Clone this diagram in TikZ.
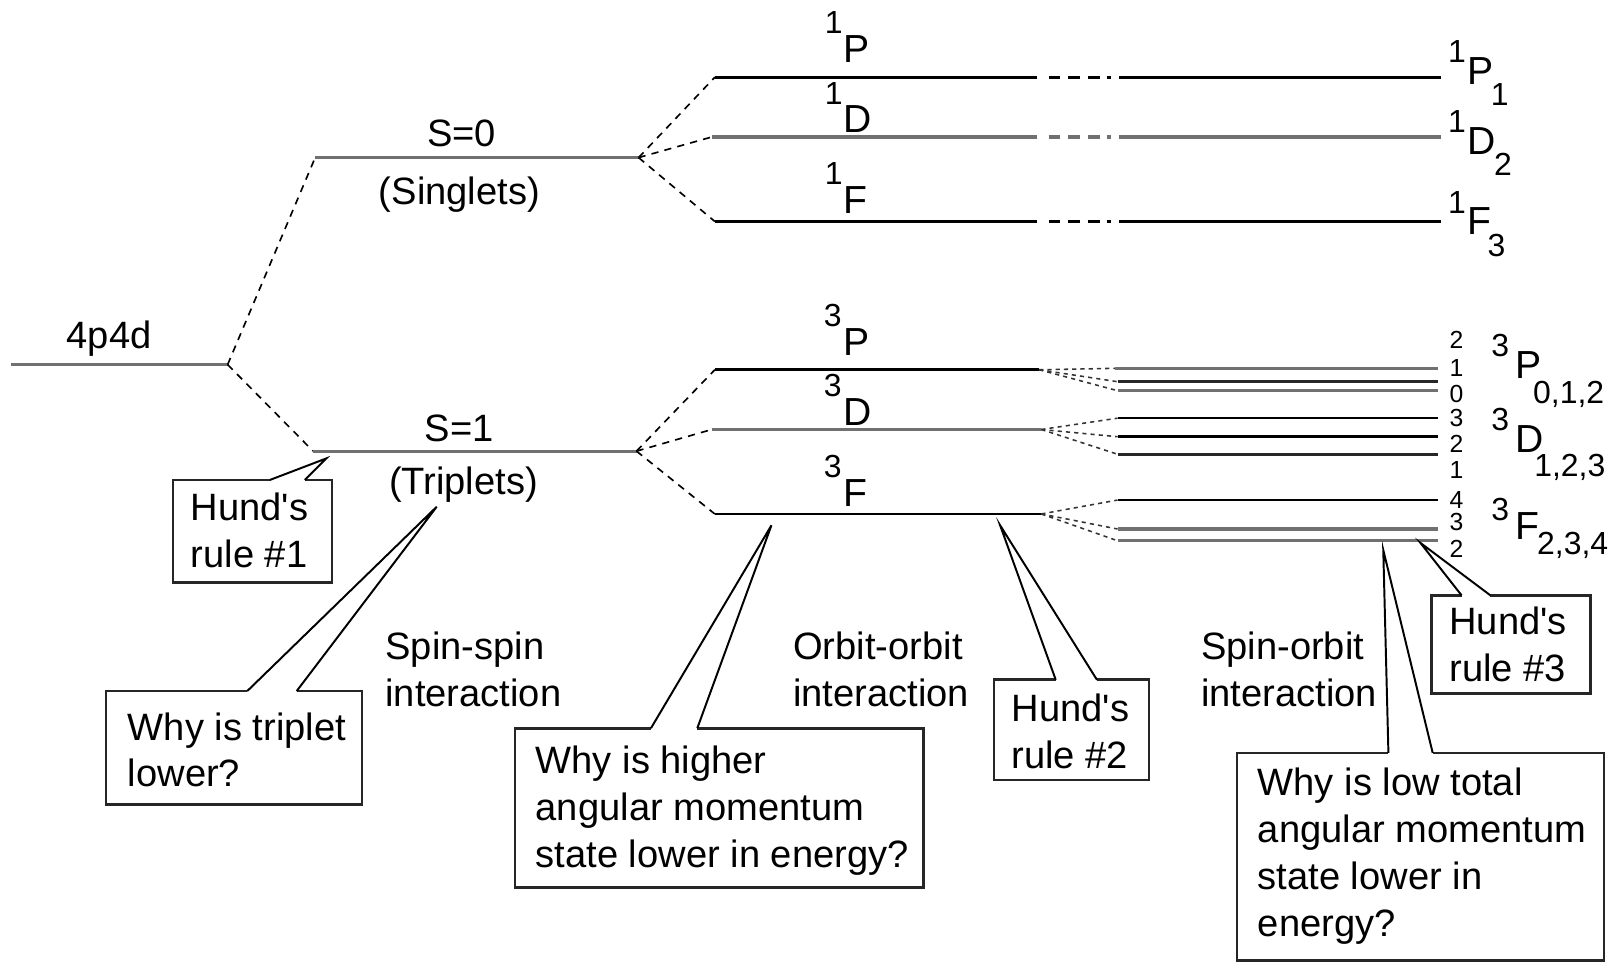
\documentclass[tikz,border=0pt]{standalone}
\usepackage{fontspec}
\setmainfont{Liberation Sans}
\usetikzlibrary{calc}
\newcommand\fsz[1]{\fontsize{#1}{45.5}\selectfont}
\newcommand\hund{Hund\textquotesingle s}
\definecolor{lvgray}{HTML}{707070}
\begin{document}
\begin{tikzpicture}[x=1pt,y=-1pt,
  lev/.style={line width=2.5pt,black},
  levg/.style={line width=3pt,lvgray},
  fan/.style={line width=1.6pt,black,dash pattern=on 7pt off 6pt},
  subfan/.style={line width=1.5pt,black!80,dash pattern=on 4pt off 4pt},
  broken/.style={dash pattern=on #1 off 11pt on 11.5pt off 7.5pt on 11.5pt off 7.5pt on 11.5pt off 7pt on 4pt off 8pt on 500pt},
  txt/.style={anchor=base west,inner sep=0pt,align=left,font=\fsz{37}},
  ctxt/.style={anchor=base,inner sep=0pt,font=\fsz{37}},
  lbl/.style={anchor=base west,inner sep=0pt,font=\fsz{38}},
  jnum/.style={anchor=base,inner sep=0pt,font=\fsz{24}},
  callbox/.style={inner sep=0pt,anchor=north west},
  boxedge/.style={line width=2.6pt,black!85,line join=miter},
  pointer/.style={line width=1.9pt,black,line join=miter}
]
\newcommand\sps[1]{{\fsz{31}#1}}
\useasboundingbox (0,0) rectangle (1568,934);

% ---- level end points ----
\coordinate (gL) at (11,354);   \coordinate (gR) at (221,354);
\coordinate (s0L) at (306,153); \coordinate (s0R) at (620,153);
\coordinate (s1L) at (304,438); \coordinate (s1R) at (618,438);
\coordinate (P1L) at (694,75);  \coordinate (P1R) at (1399,75);
\coordinate (D1L) at (691,133); \coordinate (D1R) at (1399,133);
\coordinate (F1L) at (694,215); \coordinate (F1R) at (1399,215);
\coordinate (P3L) at (694,359); \coordinate (P3R) at (1009,359);
\coordinate (D3L) at (691,417); \coordinate (D3R) at (1011,417);
\coordinate (F3L) at (694,499); \coordinate (F3R) at (1011,499);
% fine-structure sublevels
\coordinate (P2a) at (1083,357.6); \coordinate (P2b) at (1396,357.6);
\coordinate (P1a) at (1085,370.6); \coordinate (P1b) at (1396,370.6);
\coordinate (P0a) at (1085,379.3); \coordinate (P0b) at (1396,379.3);
\coordinate (D3a) at (1085,406);   \coordinate (D3b) at (1396,406);
\coordinate (D2a) at (1085,424);   \coordinate (D2b) at (1396,424);
\coordinate (D1a) at (1085,441);   \coordinate (D1b) at (1396,441);
\coordinate (F4a) at (1085,485.5); \coordinate (F4b) at (1396,485.5);
\coordinate (F3a) at (1085,513.6); \coordinate (F3b) at (1396,513.6);
\coordinate (F2a) at (1085,525);   \coordinate (F2b) at (1396,525);

% ---- configuration and spin splitting ----
\draw[levg] (gL) -- (gR);
\draw[fan] (gR) -- (s0L);
\draw[fan] (gR) -- (s1L);
\draw[levg] (s0L) -- (s0R);
\draw[levg] (s1L) -- (s1R);

% ---- singlet terms ----
\draw[fan] (s0R) -- (P1L);
\draw[fan] (s0R) -- (D1L);
\draw[fan] (s0R) -- (F1L);
\draw[lev,broken=313pt] (P1L) -- (P1R);
\draw[levg,broken=316pt] (D1L) -- (D1R);
\draw[lev,broken=313pt] (F1L) -- (F1R);

% ---- triplet terms ----
\draw[fan] (s1R) -- (P3L);
\draw[fan] (s1R) -- (D3L);
\draw[fan] (s1R) -- (F3L);
\draw[lev] (P3L) -- (P3R);
\draw[levg] (D3L) -- (D3R);
\draw[lev] (F3L) -- (F3R);

% ---- spin-orbit sublevels ----
\foreach \a in {P2a,P1a,P0a} \draw[subfan] (P3R) -- (\a);
\foreach \a in {D3a,D2a,D1a} \draw[subfan] (D3R) -- (\a);
\foreach \a in {F4a,F3a,F2a} \draw[subfan] (F3R) -- (\a);
\draw[levg] (P2a) -- (P2b);
\draw[lev,line width=2.8pt,black!85] (P1a) -- (P1b);
\draw[levg] (P0a) -- (P0b);
\draw[lev] (D3a) -- (D3b);
\draw[lev] (D2a) -- (D2b);
\draw[lev,black!85] (D1a) -- (D1b);
\draw[lev] (F4a) -- (F4b);
\draw[levg] (F3a) -- (F3b);
\draw[levg] (F2a) -- (F2b);

% J values
\node[jnum] (j1) at (1414,338) {2};
\node[jnum] (j2) at (1414,366) {1};
\node[jnum] (j3) at (1414,391) {0};
\node[jnum] (j4) at (1414,414) {3};
\node[jnum] (j5) at (1414,439) {2};
\node[jnum] (j6) at (1414,465) {1};
\node[jnum] (j7) at (1414,494) {4};
\node[jnum] (j8) at (1414,515) {3};
\node[jnum] (j9) at (1414,541) {2};

% ---- level labels ----
\node[ctxt] (cfg) at (106,338) {4p4d};
\node[ctxt] (S0) at (448,142) {S=0};
\node[ctxt] (sing) at (446,199) {(Singlets)};
\node[ctxt] (S1) at (446,429) {S=1};
\node[ctxt] (trip) at (450,480) {(Triplets)};

\node[lbl] (t1P) at (819,61)  {\llap{\raisebox{28pt}{\sps{1}}\kern1pt}P};
\node[lbl] (t1D) at (819,129) {\llap{\raisebox{28pt}{\sps{1}}\kern1pt}D};
\node[lbl] (t1F) at (819,207) {\llap{\raisebox{28pt}{\sps{1}}\kern1pt}F};
\node[lbl] (t3P) at (819,345) {\llap{\raisebox{28pt}{\sps{3}}\kern2pt}P};
\node[lbl] (t3D) at (819,413) {\llap{\raisebox{28pt}{\sps{3}}\kern2pt}D};
\node[lbl] (t3F) at (819,492) {\llap{\raisebox{28pt}{\sps{3}}\kern2pt}F};

\node[lbl] (r1P) at (1425,82)  {\llap{\raisebox{21pt}{\sps{1}}\kern2pt}P\kern-3pt\raisebox{-20pt}{\sps{1}}};
\node[lbl] (r1D) at (1425,150) {\llap{\raisebox{21pt}{\sps{1}}\kern2pt}D\kern-2pt\raisebox{-20pt}{\sps{2}}};
\node[lbl] (r1F) at (1425,228) {\llap{\raisebox{21pt}{\sps{1}}\kern2pt}F\kern-4pt\raisebox{-21pt}{\sps{3}}};
\node[lbl] (r3P) at (1471,367) {\llap{\raisebox{21pt}{\sps{3}}\kern6pt}P\kern-8pt\raisebox{-25pt}{\sps{0,1,2}}};
\node[lbl] (r3D) at (1471,439) {\llap{\raisebox{21pt}{\sps{3}}\kern6pt}D\kern-9pt\raisebox{-24pt}{\sps{1,2,3}}};
\node[lbl] (r3F) at (1471,524) {\llap{\raisebox{19pt}{\sps{3}}\kern6pt}F\kern-2pt\raisebox{-14pt}{\sps{2,3,4}}};

% ---- interaction names (anchored on the last line's baseline) ----
\node[txt] (ss) at (374,686) {Spin-spin\\interaction};
\node[txt] (oo) at (770,686) {Orbit-orbit\\interaction};
\node[txt] (so) at (1166,686) {Spin-orbit\\interaction};

% ---- callout boxes ----
% Hund's rule #1
\node[callbox,minimum width=154pt,minimum height=99pt] (hr1) at (168,466) {};
\coordinate (hr1tip) at (317,445);
\draw[boxedge] ($(hr1.north west)+(128,0)$) -- (hr1.north east) -- (hr1.south east) -- (hr1.south west) -- (hr1.north west) -- ($(hr1.north west)+(94,0)$);
\draw[pointer] ($(hr1.north west)+(94,0)$) -- (hr1tip) -- ($(hr1.north west)+(128,0)$);
\node[txt] (hr1t) at (185,551) {\hund\\rule \#1};

% Why is triplet lower?
\node[callbox,minimum width=248pt,minimum height=110pt] (qt) at (103,671) {};
\coordinate (qttip) at (424,492);
\draw[boxedge] ($(qt.north west)+(185,0)$) -- (qt.north east) -- (qt.south east) -- (qt.south west) -- (qt.north west) -- ($(qt.north west)+(137,0)$);
\draw[pointer] ($(qt.north west)+(137,0)$) -- (qttip) -- ($(qt.north west)+(185,0)$);
\node[txt] (qtt) at (124,764) {Why is triplet\\lower?};

% Why is higher angular momentum lower?
\node[callbox,minimum width=396pt,minimum height=154pt] (qh) at (500,707) {};
\coordinate (qhtip) at (749,510);
\draw[boxedge] ($(qh.north west)+(177,0)$) -- (qh.north east) -- (qh.south east) -- (qh.south west) -- (qh.north west) -- ($(qh.north west)+(132,0)$);
\draw[pointer] ($(qh.north west)+(132,0)$) -- (qhtip) -- ($(qh.north west)+(177,0)$);
\node[txt] (qht) at (520,842) {Why is higher\\angular momentum\\state lower in energy?};

% Hund's rule #2
\node[callbox,minimum width=150pt,minimum height=97pt] (hr2) at (965,660) {};
\coordinate (hr2tip) at (971,510);
\draw[boxedge] ($(hr2.north west)+(100,0)$) -- (hr2.north east) -- (hr2.south east) -- (hr2.south west) -- (hr2.north west) -- ($(hr2.north west)+(60,0)$);
\draw[pointer] ($(hr2.north west)+(60,0)$) -- (hr2tip) -- ($(hr2.north west)+(100,0)$);
\node[txt] (hr2t) at (982,746) {\hund\\rule \#2};

% Hund's rule #3
\node[callbox,minimum width=154pt,minimum height=95pt] (hr3) at (1390,578) {};
\coordinate (hr3tip) at (1379,527);
\draw[boxedge] ($(hr3.north west)+(57,0)$) -- (hr3.north east) -- (hr3.south east) -- (hr3.south west) -- (hr3.north west) -- ($(hr3.north west)+(29,0)$);
\draw[pointer] ($(hr3.north west)+(29,0)$) -- (hr3tip) -- ($(hr3.north west)+(57,0)$);
\node[txt] (hr3t) at (1407,662) {\hund\\rule \#3};

% Why is low total angular momentum lower?
\node[callbox,minimum width=356pt,minimum height=201pt] (ql) at (1201,731) {};
\coordinate (qltip) at (1343,534);
\draw[boxedge] ($(ql.north west)+(190,0)$) -- (ql.north east) -- (ql.south east) -- (ql.south west) -- (ql.north west) -- ($(ql.north west)+(147,0)$);
\draw[pointer] ($(ql.north west)+(147,0)$) -- (qltip) -- ($(ql.north west)+(190,0)$);
\node[txt] (qlt) at (1221,909) {Why is low total\\angular momentum\\state lower in\\energy?};
\end{tikzpicture}
\end{document}
